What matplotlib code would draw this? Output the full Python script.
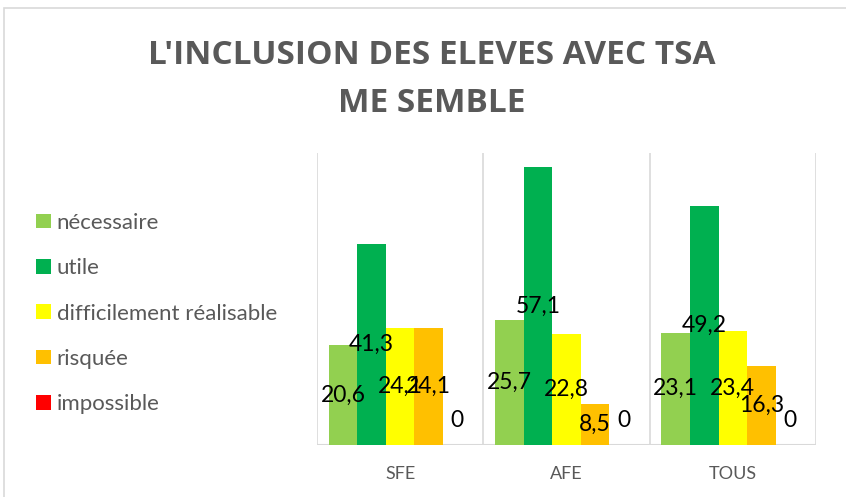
import numpy as np
import matplotlib.pyplot as plt
from matplotlib.patches import Patch, Rectangle

# Données du graphique
groupes = ['SFE', 'AFE', 'TOUS']
reponses = ['nécessaire', 'utile', 'difficilement réalisable', 'risquée', 'impossible']
necessaire = [20.6, 25.7, 23.1]
utile = [41.3, 57.1, 49.2]
difficile = [24.1, 22.8, 23.4]
risquee = [24.1, 8.5, 16.3]
impossible = [0, 0, 0]
couleurs = ['#92D050', '#00B050', '#FFFF00', '#FFC000', '#FF0000']

series = [necessaire, utile, difficile, risquee, impossible]

plt.rcParams['font.family'] = ['Lato', 'DejaVu Sans']

fig = plt.figure(figsize=(8.46, 4.97), dpi=100)
ax = fig.add_axes([0.3747, 0.1046, 0.5898, 0.5875])

x = np.arange(len(groupes))
w = 0.1717
for i, (vals, col) in enumerate(zip(series, couleurs)):
    pos = x + (i - 2) * w
    ax.bar(pos, vals, width=w, color=col, zorder=2)
    for p, v in zip(pos, vals):
        txt = '0' if v == 0 else f'{v:.1f}'.replace('.', ',')
        y = v / 2 if v > 0 else 5
        ax.text(p, y, txt, ha='center', va='center', fontsize=16.5, color='black', zorder=3)

ax.set_xlim(-0.5, 2.5)
ax.set_ylim(0, 60)
for b in [-0.5, 0.5, 1.5, 2.5]:
    ax.axvline(b, color='#d9d9d9', lw=1.2, zorder=1)
for s in ax.spines.values():
    s.set_visible(False)
ax.axhline(0, color='#d9d9d9', lw=1.5, zorder=1)
ax.set_yticks([])
ax.set_xticks(x)
ax.set_xticklabels(groupes, fontsize=13, color='#595959')
ax.tick_params(axis='x', length=0, pad=15)

# Titre
titre = ["L'INCLUSION DES ELEVES AVEC TSA", "ME SEMBLE"]
for ligne, yb in zip(titre, [0.8712, 0.7746]):
    fig.text(0.510, yb, ligne, ha='center', va='baseline', fontsize=24,
             fontweight='bold', color='#595959', family=['Open Sans', 'DejaVu Sans'])

# Légende
handles = [Patch(facecolor=c, edgecolor='none') for c in couleurs]
fig.legend(handles, reponses, loc='upper left', bbox_to_anchor=(0.019, 0.612), frameon=False,
           fontsize=16, labelcolor='#595959', handlelength=0.65, handleheight=0.65,
           handletextpad=0.27, labelspacing=1.14)

# Cadre du graphique
fig.patches.append(Rectangle((4 / 846, -0.1), 1.1, 1.1 - 8 / 497, transform=fig.transFigure,
                             fill=False, edgecolor='#d9d9d9', lw=1.2))

fig.savefig('out.png', dpi=100)
